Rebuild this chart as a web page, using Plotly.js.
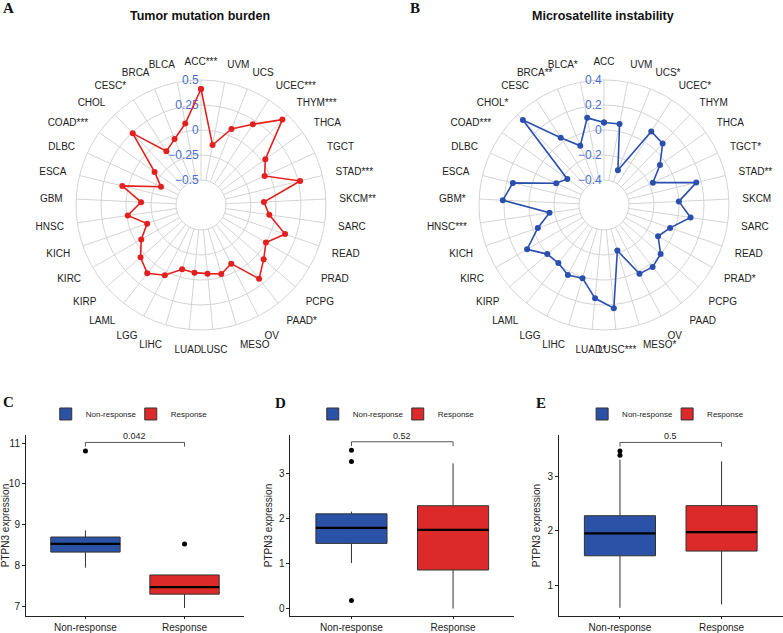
<!DOCTYPE html>
<html><head><meta charset="utf-8">
<script src="https://cdn.plot.ly/plotly-3.0.1.min.js"></script>
<style>html,body{margin:0;padding:0;background:#fff}#chart{width:783px;height:633px}</style>
</head><body><div id="chart"></div>
<script>
// ---- Radar A: Tumor mutation burden ----
const cancersA = ['ACC***','BLCA','BRCA','CESC*','CHOL','COAD***','DLBC','ESCA','GBM','HNSC','KICH','KIRC','KIRP','LAML','LGG','LIHC','LUAD','LUSC','MESO','OV','PAAD*','PCPG','PRAD','READ','SARC','SKCM**','STAD***','TGCT','THCA','THYM***','UCEC***','UCS','UVM'];
const tmbValues = [0.41,0.08,-0.04,-0.11,0.24,-0.18,-0.31,0.06,-0.15,-0.01,-0.18,-0.06,0.05,0.12,0.04,-0.08,-0.07,-0.06,-0.03,-0.09,0.19,0.08,0.00,0.14,-0.06,-0.12,0.27,-0.05,0.04,0.43,0.21,0.07,-0.14];
const tmbTicks = [-0.5,-0.25,0,0.25,0.5];

// ---- Radar B: Microsatellite instability ----
const cancersB = ['ACC','BLCA*','BRCA**','CESC','CHOL*','COAD***','DLBC','ESCA','GBM*','HNSC***','KICH','KIRC','KIRP','LAML','LGG','LIHC','LUAD*','LUSC***','MESO*','OV','PAAD','PCPG','PRAD*','READ','SARC','SKCM','STAD**','TGCT*','THCA','THYM','UCEC*','UCS*','UVM'];
const msiValues = [0.06,0.11,-0.09,0.04,0.34,-0.24,-0.18,0.15,0.21,-0.16,-0.04,0.11,0.00,-0.01,0.03,0.01,0.15,0.23,-0.22,0.02,0.03,0.00,-0.10,-0.04,0.10,0.00,0.16,-0.17,-0.05,0.08,0.10,-0.30,0.06];
const msiTicks = [-0.4,-0.2,0,0.2,0.4];

// ---- Boxplots ----
const groups = ['Non-response','Response'];
const cQ1 = [8.33,7.30], cMedian = [8.53,7.47], cQ3 = [8.70,7.77], cLower = [7.95,6.96], cUpper = [8.86,7.77];
const cOutliers = [[10.81],[8.53]];
const cP = '0.042';
const dQ1 = [1.445,0.854], dMedian = [1.79,1.745], dQ3 = [2.10,2.28], dLower = [1.01,0.0], dUpper = [2.15,3.22];
const dOutliers = [[3.51,3.26,0.18],[]];
const dP = '0.52';
const eQ1 = [1.544,1.63], eMedian = [1.952,1.976], eQ3 = [2.276,2.46], eLower = [0.595,0.655], eUpper = [3.30,3.27];
const eOutliers = [[3.46,3.38],[]];
const eP = '0.5';

const FONT = 'Liberation Sans, Arial, sans-serif';
const boxColors = ['#2B52A6','#DC2A2A'];
const traces = [];
const annotations = [];

function radar(cats, vals, color, subplot) {
  traces.push({
    type:'scatterpolar', subplot: subplot,
    r: vals.concat([vals[0]]), theta: cats.concat([cats[0]]),
    mode:'lines+markers', line:{color:color, width:1.6},
    marker:{color:color, size:6}, showlegend:false, hoverinfo:'skip'
  });
}
radar(cancersA, tmbValues, '#E3201E', 'polar');
radar(cancersB, msiValues, '#2A4FAE', 'polar2');

function panel(ax, q1, med, q3, lo, hi, outs, p, legendName) {
  const xa = 'x' + (ax === 1 ? '' : ax), ya = 'y' + (ax === 1 ? '' : ax);
  let all = [];
  for (let g = 0; g < 2; g++) {
    traces.push({
      type:'box', x:[g], q1:[q1[g]], median:[med[g]], q3:[q3[g]],
      lowerfence:[lo[g]], upperfence:[hi[g]], width:0.7, whiskerwidth:0,
      fillcolor: boxColors[g], line:{color:'#333', width:1}, boxpoints:false,
      name: groups[g], legend: legendName, xaxis: xa, yaxis: ya, hoverinfo:'skip'
    });
    traces.push({
      type:'scatter', mode:'lines', x:[g-0.35, g+0.35], y:[med[g], med[g]],
      line:{color:'#000', width:2.2}, showlegend:false, xaxis:xa, yaxis:ya, hoverinfo:'skip'
    });
    if (outs[g].length) {
      traces.push({
        type:'scatter', mode:'markers', x: outs[g].map(() => g), y: outs[g],
        marker:{color:'#000', size:5}, showlegend:false, xaxis:xa, yaxis:ya, hoverinfo:'skip'
      });
    }
    all = all.concat([lo[g], hi[g]], outs[g]);
  }
  const mx = Math.max(...all), mn = Math.min(...all), rg = mx - mn;
  const yb = mx + 0.054 * rg, tip = 0.027 * rg;
  traces.push({
    type:'scatter', mode:'lines', x:[0,0,1,1], y:[yb-tip, yb, yb, yb-tip],
    line:{color:'#555', width:1}, showlegend:false, xaxis:xa, yaxis:ya, hoverinfo:'skip'
  });
  annotations.push({xref:xa, yref:ya, x:0.5, y:yb, text:p, showarrow:false, yanchor:'bottom', yshift:-1,
    font:{size:9, color:'#222', family:FONT}});
}
panel(1, cQ1, cMedian, cQ3, cLower, cUpper, cOutliers, cP, 'legend');
panel(2, dQ1, dMedian, dQ3, dLower, dUpper, dOutliers, dP, 'legend2');
panel(3, eQ1, eMedian, eQ3, eLower, eUpper, eOutliers, eP, 'legend3');

function polarLayout(domX, ticks) {
  return {
    domain:{x:domX, y:[0.4787,0.8736]}, hole:0.2, bgcolor:'#fff',
    radialaxis:{range:[ticks[0], ticks[4]], tickvals:ticks, angle:90, tickangle:90, side:'counterclockwise',
      showline:false, ticks:'', gridcolor:'#d4d4d4', gridwidth:1, layer:'below traces',
      tickfont:{size:12, color:'#4A6FD0', family:FONT}},
    angularaxis:{type:'category', rotation:90, direction:'counterclockwise', gridcolor:'#d4d4d4', gridwidth:1,
      showline:true, linecolor:'#d4d4d4', linewidth:1, ticks:'outside', ticklen:11, tickcolor:'rgba(0,0,0,0)',
      tickfont:{size:10, color:'#222', family:FONT}, layer:'below traces'}
  };
}

function xAx(dom, anchor) {
  return {domain:dom, anchor:anchor, range:[-0.6,1.6], tickvals:[0,1], ticktext:groups, showline:true,
    linecolor:'#222', linewidth:1, ticks:'outside', ticklen:2, tickcolor:'#222', showgrid:false, zeroline:false,
    tickfont:{size:10, color:'#222', family:FONT}, fixedrange:true};
}
function yAx(rng, anchor) {
  return {domain:[0.0269,0.3128], anchor:anchor, range:rng, dtick:1, showline:true, linecolor:'#222', linewidth:1,
    ticks:'outside', ticklen:3, tickcolor:'#222', showgrid:false, zeroline:false,
    tickfont:{size:10, color:'#222', family:FONT},
    title:{text:'PTPN3 expression', font:{size:10, color:'#222', family:FONT}, standoff:4}};
}

function legendAt(x) {
  return {orientation:'h', x:x, xanchor:'center', y:0.346, yanchor:'middle', bgcolor:'rgba(0,0,0,0)',
    font:{size:8, color:'#222', family:FONT}, itemwidth:30, entrywidth:40, tracegroupgap:0};
}

function label(text, x, y, opts) {
  annotations.push(Object.assign({xref:'paper', yref:'paper', x:x/783, y:1 - y/633, text:text, showarrow:false,
    xanchor:'center', yanchor:'middle'}, opts));
}
label('<b>Tumor mutation burden</b>', 200, 16, {font:{size:12.5, color:'#111', family:FONT}});
label('<b>Microsatellite instability</b>', 603, 16, {font:{size:12.5, color:'#111', family:FONT}});
const serif = {size:15, color:'#111', family:'Liberation Serif, Times New Roman, serif'};
label('<b>A</b>', 8, 8, {font:serif});
label('<b>B</b>', 415, 8, {font:serif});
label('<b>C</b>', 8, 402, {font:serif});
label('<b>D</b>', 280, 403, {font:serif});
label('<b>E</b>', 541, 403, {font:serif});

const layout = {
  width:783, height:633, margin:{l:0, r:0, t:0, b:0}, paper_bgcolor:'#fff', plot_bgcolor:'#fff',
  font:{family:FONT}, boxmode:'overlay',
  polar: polarLayout([0.0971,0.4163], tmbTicks),
  polar2: polarLayout([0.6117,0.9310], msiTicks),
  xaxis: xAx([0.0332,0.3116], 'y'), yaxis: yAx([6.765,11.2], 'x'),
  xaxis2: xAx([0.371,0.6565], 'y2'), yaxis2: yAx([-0.166,3.85], 'x2'),
  xaxis3: xAx([0.7139,0.9994], 'y3'), yaxis3: yAx([0.445,3.75], 'x3'),
  legend: legendAt(0.167), legend2: legendAt(0.508), legend3: legendAt(0.852),
  annotations: annotations
};
Plotly.newPlot('chart', traces, layout, {staticPlot:true, displayModeBar:false});
</script></body></html>
